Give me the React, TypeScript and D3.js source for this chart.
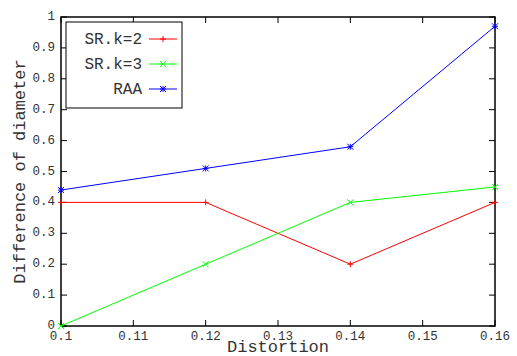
import React, { useRef, useEffect } from 'react';
import * as d3 from 'd3';

// distortion values on the x axis
const distortion = [0.1, 0.12, 0.14, 0.16];
const srK2 = [0.4, 0.4, 0.2, 0.4];
const srK3 = [0, 0.2, 0.4, 0.45];
const raa = [0.44, 0.51, 0.58, 0.97];

const xTicks = [0.1, 0.11, 0.12, 0.13, 0.14, 0.15, 0.16];
const yTicks = [0, 0.1, 0.2, 0.3, 0.4, 0.5, 0.6, 0.7, 0.8, 0.9, 1];

const seriesNames = ['SR.k=2', 'SR.k=3', 'RAA'];
const seriesColors = ['#ff0000', '#00ff00', '#0000ff'];
const seriesMarkers = ['plus', 'cross', 'star'];

const App = () => {
  const svgRef = useRef<SVGSVGElement>(null);

  useEffect(() => {
    const svg = d3.select(svgRef.current);
    svg.selectAll('*').remove();

    const W = 517, H = 356;
    const margin = { top: 17, right: 22, bottom: 30, left: 61 };
    const font = "'Liberation Mono', 'DejaVu Sans Mono', 'Courier New', monospace";
    const textColor = '#333';

    const x = d3.scaleLinear().domain([0.1, 0.16]).range([margin.left, W - margin.right]);
    const y = d3.scaleLinear().domain([0, 1]).range([H - margin.bottom, margin.top]);

    const g = svg.append('g').attr('font-family', font);
    const [x0, x1] = x.range();
    const [y0, y1] = y.range();
    const tick = 6;

    // inward ticks on all four sides (gnuplot style)
    xTicks.forEach(t => {
      g.append('line').attr('x1', x(t)).attr('x2', x(t)).attr('y1', y0).attr('y2', y0 - tick)
        .attr('stroke', '#000');
      g.append('line').attr('x1', x(t)).attr('x2', x(t)).attr('y1', y1).attr('y2', y1 + tick)
        .attr('stroke', '#000');
      g.append('text').attr('x', x(t)).attr('y', y0 + 14).attr('text-anchor', 'middle')
        .attr('font-size', 12.5).attr('fill', textColor)
        .text(String(t));
    });
    yTicks.forEach(t => {
      g.append('line').attr('x1', x0).attr('x2', x0 + tick).attr('y1', y(t)).attr('y2', y(t))
        .attr('stroke', '#000');
      g.append('line').attr('x1', x1).attr('x2', x1 - tick).attr('y1', y(t)).attr('y2', y(t))
        .attr('stroke', '#000');
      g.append('text').attr('x', x0 - 6).attr('y', y(t) + 3).attr('text-anchor', 'end')
        .attr('font-size', 12.5).attr('fill', textColor)
        .text(String(t));
    });

    g.append('rect').attr('x', x0).attr('y', y1).attr('width', x1 - x0).attr('height', y0 - y1)
      .attr('fill', 'none').attr('stroke', '#000').attr('stroke-width', 1.5);

    // axis titles
    g.append('text').attr('x', (x0 + x1) / 2).attr('y', H - 4).attr('text-anchor', 'middle')
      .attr('font-size', 17).attr('fill', textColor).text('Distortion');
    g.append('text').attr('transform', `translate(25,${(y0 + y1) / 2}) rotate(-90)`)
      .attr('text-anchor', 'middle')
      .attr('font-size', 17).attr('fill', textColor)
      .text('Difference of diameter');

    const drawMarker = (sel: any, cx: number, cy: number, kind: string, color: string) => {
      const s = 3;
      const m = sel.append('g').attr('stroke', color).attr('stroke-width', 1);
      if (kind === 'plus' || kind === 'star') {
        m.append('line').attr('x1', cx - s).attr('x2', cx + s).attr('y1', cy).attr('y2', cy);
        m.append('line').attr('x1', cx).attr('x2', cx).attr('y1', cy - s).attr('y2', cy + s);
      }
      if (kind === 'cross' || kind === 'star') {
        m.append('line').attr('x1', cx - s).attr('x2', cx + s).attr('y1', cy - s).attr('y2', cy + s);
        m.append('line').attr('x1', cx - s).attr('x2', cx + s).attr('y1', cy + s).attr('y2', cy - s);
      }
    };

    const line = d3.line<number>().x((_, i) => x(distortion[i])).y(d => y(d));
    [srK2, srK3, raa].forEach((vals, k) => {
      g.append('path').datum(vals).attr('d', line).attr('fill', 'none')
        .attr('stroke', seriesColors[k]).attr('stroke-width', 1);
      vals.forEach((v, i) => drawMarker(g, x(distortion[i]), y(v), seriesMarkers[k], seriesColors[k]));
    });

    // legend
    const lg = g.append('g');
    lg.append('rect').attr('x', 66).attr('y', 22).attr('width', 116).attr('height', 86)
      .attr('fill', '#fff').attr('stroke', '#000').attr('stroke-width', 1);
    seriesNames.forEach((name, k) => {
      const ly = 39 + k * 25;
      lg.append('text').attr('x', 142).attr('y', ly + 5).attr('text-anchor', 'end')
        .attr('font-size', 16).attr('fill', textColor).text(name);
      lg.append('line').attr('x1', 149).attr('x2', 177).attr('y1', ly).attr('y2', ly)
        .attr('stroke', seriesColors[k]);
      drawMarker(lg, 163, ly, seriesMarkers[k], seriesColors[k]);
    });
  }, []);

  return (
    <svg ref={svgRef} width={517} height={356}
      style={{ position: 'absolute', left: 0, top: 0, background: '#fff' }} />
  );
};

export default App;
